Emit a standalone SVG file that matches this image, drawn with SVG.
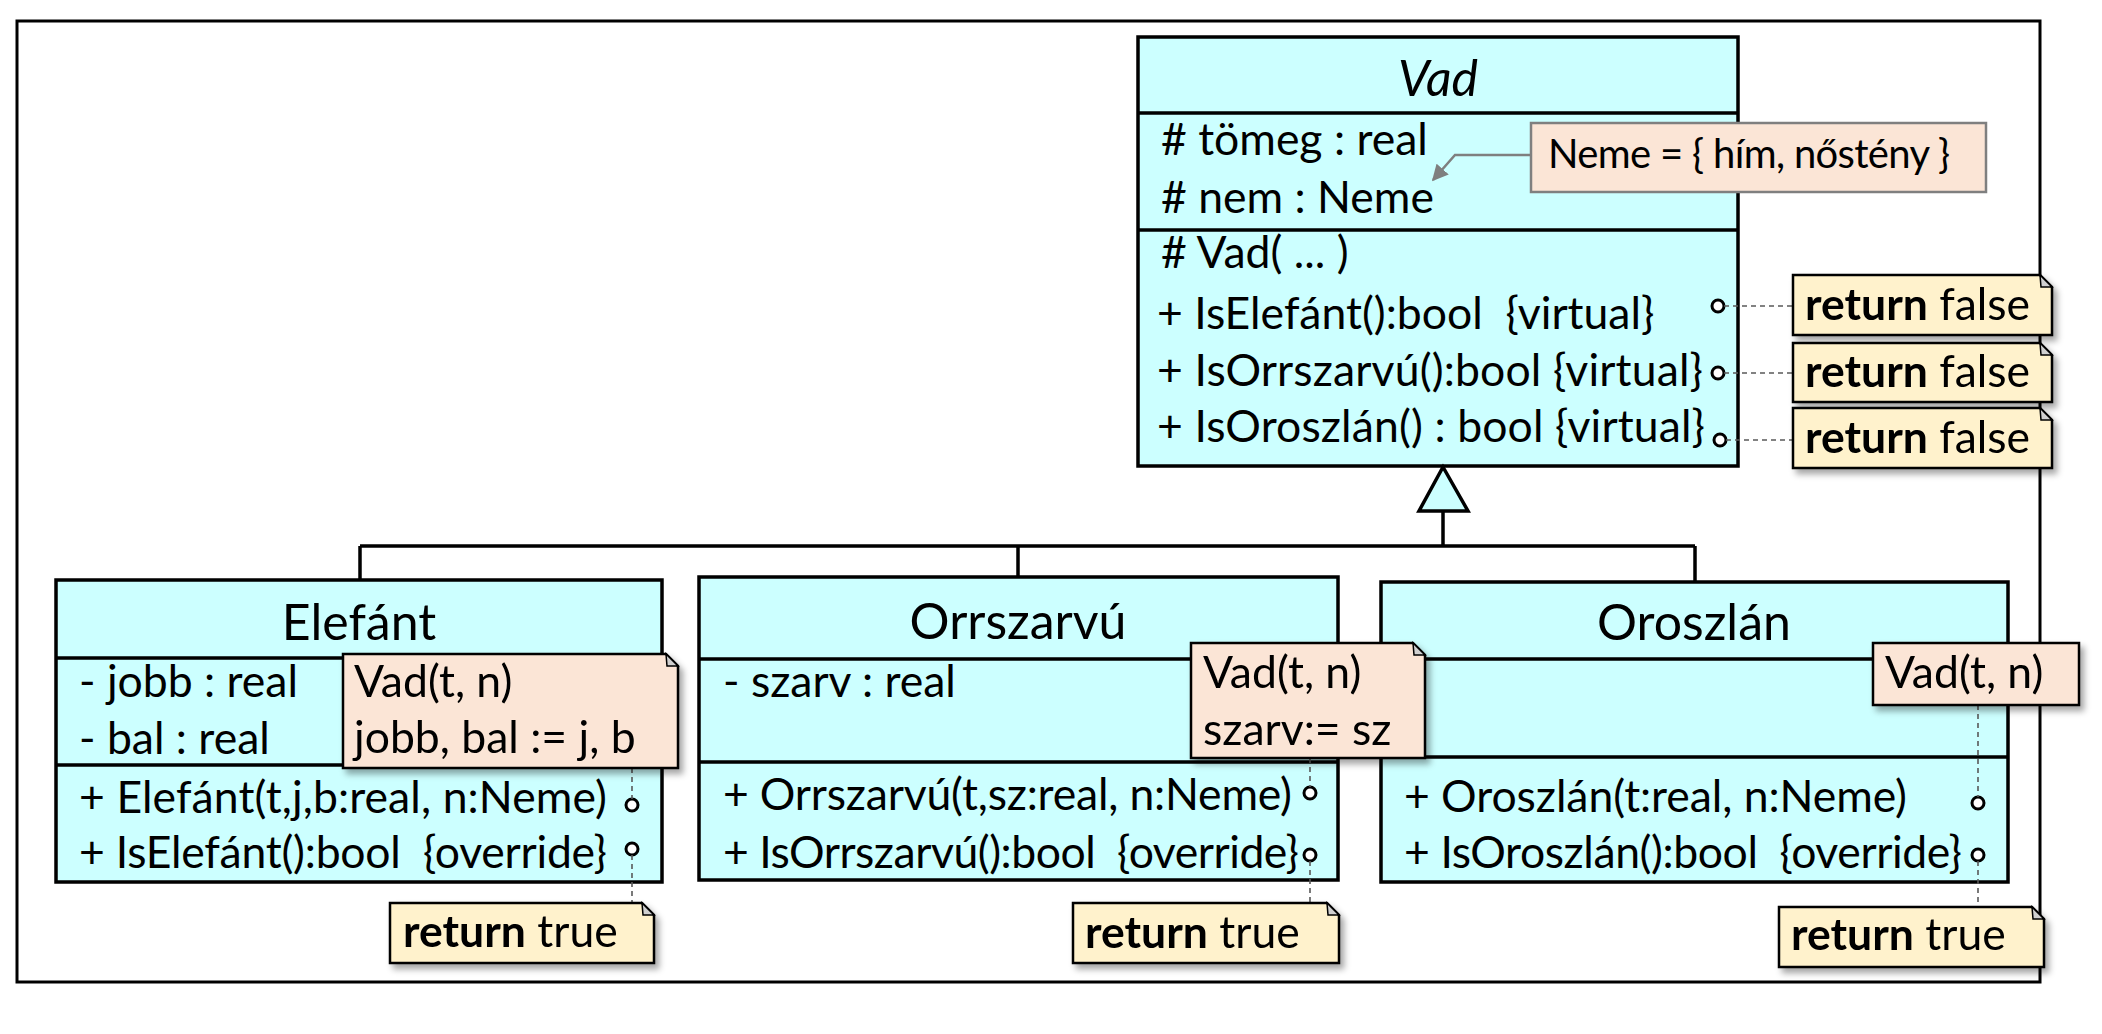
<svg xmlns="http://www.w3.org/2000/svg" width="2102" height="1034" viewBox="0 0 2102 1034">
<defs>
<style>
text{font-family:Lato,"Noto Sans",sans-serif;font-size:44.5px;fill:#000;white-space:pre}
.title{font-size:50px;text-anchor:middle}
.small{font-size:40px}
.cls{fill:#ccffff;stroke:#000;stroke-width:3.5}
.div{stroke:#000;stroke-width:3.5}
.op{fill:#fff;stroke:#000;stroke-width:3}
.gen{fill:none;stroke:#000;stroke-width:3.5}
.dash{fill:none;stroke:#595959;stroke-width:1.6;stroke-dasharray:5 4}
.ret{fill:#fff2cc;stroke:#000;stroke-width:2.5}
.impl{fill:#fbe5d6;stroke:#000;stroke-width:2.5}
.fold{fill:#d0d0d0;stroke:#000;stroke-width:1.5}
.b{font-weight:bold}
</style>
<filter id="sh" x="-10%" y="-10%" width="130%" height="140%">
<feDropShadow dx="4" dy="5" stdDeviation="3" flood-color="#000" flood-opacity="0.35"/>
</filter>
<marker id="arr" viewBox="0 0 10 10" refX="9" refY="5" markerWidth="6.5" markerHeight="6.5" orient="auto-start-reverse" markerUnits="strokeWidth">
<path d="M0,0 L10,5 L0,10 Z" fill="#7f7f7f"/>
</marker>
</defs>
<rect width="2102" height="1034" fill="#fff"/>
<rect id="frame" x="17" y="21" width="2023" height="961" fill="none" stroke="#000" stroke-width="3"/>

<g id="Vad">
<rect class="cls" x="1138" y="37" width="600" height="429"/>
<line class="div" x1="1138" y1="113" x2="1738" y2="113"/>
<line class="div" x1="1138" y1="230" x2="1738" y2="230"/>
<text class="title" x="1438" y="96" font-style="italic">Vad</text>
<text x="1161" y="155"># tömeg : real</text>
<text x="1161" y="213"># nem : Neme</text>
<text x="1161" y="268"># Vad( ... )</text>
<text x="1157" y="329">+ IsElefánt():bool  {virtual}</text>
<text x="1157" y="386" textLength="546">+ IsOrrszarvú():bool {virtual}</text>
<text x="1157" y="442" textLength="548">+ IsOroszlán() : bool {virtual}</text>
<circle class="op" cx="1718" cy="306" r="6"/>
<circle class="op" cx="1718" cy="373" r="6"/>
<circle class="op" cx="1720" cy="440" r="6"/>
</g>

<g id="Elefant">
<rect class="cls" x="56" y="580" width="606" height="302"/>
<line class="div" x1="56" y1="658" x2="662" y2="658"/>
<line class="div" x1="56" y1="765" x2="662" y2="765"/>
<text class="title" x="359" y="640">Elefánt</text>
<text x="79" y="697">- jobb : real</text>
<text x="79" y="754">- bal : real</text>
<text x="79" y="813" textLength="528">+ Elefánt(t,j,b:real, n:Neme)</text>
<text x="79" y="868" textLength="528">+ IsElefánt():bool  {override}</text>
<circle class="op" cx="632" cy="805" r="6"/>
<circle class="op" cx="632" cy="849" r="6"/>
</g>

<g id="Orrszarvu">
<rect class="cls" x="699" y="577" width="639" height="303"/>
<line class="div" x1="699" y1="659" x2="1338" y2="659"/>
<line class="div" x1="699" y1="762" x2="1338" y2="762"/>
<text class="title" x="1018" y="639">Orrszarvú</text>
<text x="723" y="697">- szarv : real</text>
<text x="723" y="810" textLength="569">+ Orrszarvú(t,sz:real, n:Neme)</text>
<text x="723" y="868" textLength="576">+ IsOrrszarvú():bool  {override}</text>
<circle class="op" cx="1310" cy="793" r="6"/>
<circle class="op" cx="1310" cy="855" r="6"/>
</g>

<g id="Oroszlan">
<rect class="cls" x="1381" y="582" width="627" height="300"/>
<line class="div" x1="1381" y1="659" x2="2008" y2="659"/>
<line class="div" x1="1381" y1="757" x2="2008" y2="757"/>
<text class="title" x="1694" y="640">Oroszlán</text>
<text x="1404" y="812" textLength="503">+ Oroszlán(t:real, n:Neme)</text>
<text x="1404" y="868" textLength="558">+ IsOroszlán():bool  {override}</text>
<circle class="op" cx="1978" cy="803" r="6"/>
<circle class="op" cx="1978" cy="855" r="6"/>
</g>

<g id="connectors">
<polygon points="1443,467 1419,511 1468,511" fill="#ccffff" stroke="#000" stroke-width="3.5" stroke-linejoin="miter"/>
<path class="gen" d="M1443,511 V546 M360,546 H1695 M360,546 V580 M1018,546 V577 M1695,546 V582"/>
<path d="M1531,155 H1455 L1433,180" fill="none" stroke="#7f7f7f" stroke-width="2.5" marker-end="url(#arr)"/>
<path class="dash" d="M1724,306 H1793 M1724,373 H1793 M1726,440 H1793"/>
<path class="dash" d="M632,768 V799 M632,855 V903"/>
<path class="dash" d="M1310,758 V787 M1310,861 V903"/>
<path class="dash" d="M1978,705 V797 M1978,861 V907"/>
</g>

<g id="note-neme">
<rect x="1531" y="123" width="455" height="69" fill="#fbe5d6" stroke="#7f7f7f" stroke-width="2.5"/>
<text class="small" x="1548" y="168" textLength="402">Neme = { hím, nőstény }</text>
</g>

<g id="note-false1" filter="url(#sh)">
<path class="ret" d="M1793,275 H2040 L2052,287 V335 H1793 Z"/>
<path class="fold" d="M2040,275 L2041,287 L2052,287 Z"/>
<text x="1805" y="320"><tspan class="b">return</tspan> false</text>
</g>
<g id="note-false2" filter="url(#sh)">
<path class="ret" d="M1793,343 H2040 L2052,355 V402 H1793 Z"/>
<path class="fold" d="M2040,343 L2041,355 L2052,355 Z"/>
<text x="1805" y="387"><tspan class="b">return</tspan> false</text>
</g>
<g id="note-false3" filter="url(#sh)">
<path class="ret" d="M1793,408 H2040 L2052,420 V468 H1793 Z"/>
<path class="fold" d="M2040,408 L2041,420 L2052,420 Z"/>
<text x="1805" y="453"><tspan class="b">return</tspan> false</text>
</g>

<g id="note-elefant-ctor" filter="url(#sh)">
<path class="impl" d="M343,654 H666 L678,666 V768 H343 Z"/>
<path class="fold" d="M666,654 L667,666 L678,666 Z"/>
<text x="354" y="697">Vad(t, n)</text>
<text x="354" y="753">jobb, bal := j, b</text>
</g>
<g id="note-elefant-true" filter="url(#sh)">
<path class="ret" d="M390,903 H642 L654,915 V963 H390 Z"/>
<path class="fold" d="M642,903 L643,915 L654,915 Z"/>
<text x="403" y="947"><tspan class="b">return</tspan> true</text>
</g>

<g id="note-orrszarvu-ctor" filter="url(#sh)">
<path class="impl" d="M1191,643 H1413 L1425,655 V758 H1191 Z"/>
<path class="fold" d="M1413,643 L1414,655 L1425,655 Z"/>
<text x="1203" y="688">Vad(t, n)</text>
<text x="1203" y="745">szarv:= sz</text>
</g>
<g id="note-orrszarvu-true" filter="url(#sh)">
<path class="ret" d="M1073,903 H1327 L1339,915 V963 H1073 Z"/>
<path class="fold" d="M1327,903 L1328,915 L1339,915 Z"/>
<text x="1085" y="948"><tspan class="b">return</tspan> true</text>
</g>

<g id="note-oroszlan-ctor" filter="url(#sh)">
<rect class="impl" x="1873" y="643" width="206" height="62"/>
<text x="1885" y="688">Vad(t, n)</text>
</g>
<g id="note-oroszlan-true" filter="url(#sh)">
<path class="ret" d="M1779,907 H2032 L2044,919 V967 H1779 Z"/>
<path class="fold" d="M2032,907 L2033,919 L2044,919 Z"/>
<text x="1791" y="950"><tspan class="b">return</tspan> true</text>
</g>
</svg>
